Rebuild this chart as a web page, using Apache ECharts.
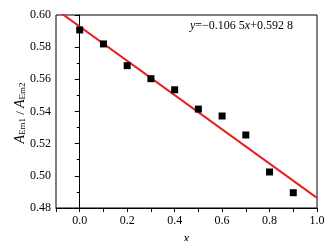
<!DOCTYPE html>
<html>
<head>
<meta charset="utf-8">
<script src="https://cdn.jsdelivr.net/npm/echarts@6/dist/echarts.min.js"></script>
<style>
  html, body { margin: 0; padding: 0; background: #fff; }
  #chart { width: 331px; height: 241px; }
</style>
</head>
<body>
<div id="chart"></div>
<script>
var xValues = [0.0, 0.1, 0.2, 0.3, 0.4, 0.5, 0.6, 0.7, 0.8, 0.9];
var ratioValues = [0.5907, 0.5820, 0.5685, 0.5604, 0.5535, 0.5415, 0.5372, 0.5254, 0.5024, 0.4895];
var fitSlope = -0.1065;
var fitIntercept = 0.5928;
var fitRange = [-0.1, 1.0];

var serif = '"Liberation Serif", "Times New Roman", serif';

var points = xValues.map(function (x, i) { return [x, ratioValues[i]]; });
var fitLine = fitRange.map(function (x) { return [x, fitSlope * x + fitIntercept]; });

var dom = document.getElementById('chart');
var chart = echarts.init(dom, null, { renderer: 'canvas' });

var option = {
  backgroundColor: '#fff',
  animation: false,
  grid: {
    left: 56, right: 14, top: 15, bottom: 33,
    containLabel: false,
    outerBoundsMode: 'none',
    show: true, borderColor: '#000', borderWidth: 1
  },
  xAxis: {
    type: 'value',
    min: -0.1, max: 1.0, interval: 0.1,
    name: 'x',
    nameLocation: 'middle',
    nameGap: 18,
    nameTextStyle: { fontFamily: serif, fontSize: 13, fontStyle: 'italic', color: '#000' },
    axisLine: { lineStyle: { color: '#000', width: 1 } },
    axisTick: { inside: false, length: 4, lineStyle: { color: '#000' } },
    axisLabel: {
      fontFamily: serif, fontSize: 12, color: '#000', margin: 7,
      formatter: function (v) {
        var k = Math.round(v * 10);
        return (k >= 0 && k % 2 === 0) ? (k / 10).toFixed(1) : '';
      }
    },
    splitLine: { show: false }
  },
  yAxis: {
    type: 'value',
    min: 0.48, max: 0.60, interval: 0.02,
    axisLine: { show: true, lineStyle: { color: '#000', width: 1 } },
    axisTick: { show: true, inside: false, length: 5, lineStyle: { color: '#000' } },
    minorTick: { show: true, splitNumber: 2, length: 3, lineStyle: { color: '#000' } },
    axisLabel: {
      fontFamily: serif, fontSize: 12, color: '#000', margin: 5,
      formatter: function (v) { return v.toFixed(2); }
    },
    splitLine: { show: false }
  },
  series: [
    {
      type: 'line',
      data: fitLine,
      showSymbol: false,
      symbol: 'none',
      clip: true,
      lineStyle: { color: '#e8201c', width: 2 },
      z: 2
    },
    {
      type: 'scatter',
      data: points,
      symbol: 'rect',
      symbolSize: 7,
      itemStyle: { color: '#000', opacity: 1 },
      z: 3
    }
  ],
  graphic: [
    {
      type: 'text',
      left: 190,
      top: 20,
      style: {
        text: '{i|y}=\u22120.106 5{i|x}+0.592 8',
        fontFamily: serif,
        fontSize: 12,
        fill: '#000',
        rich: {
          i: { fontFamily: serif, fontSize: 12, fontStyle: 'italic', fill: '#000' }
        }
      }
    },
    {
      type: 'text',
      x: 19,
      y: 113,
      rotation: Math.PI / 2,
      style: {
        text: '{i|A}{s|Em1}{n| / }{i|A}{s|Em2}',
        align: 'center',
        verticalAlign: 'middle',
        fill: '#000',
        rich: {
          i: { fontFamily: serif, fontSize: 14, fontStyle: 'italic', fill: '#000', lineHeight: 16, verticalAlign: 'bottom' },
          s: { fontFamily: serif, fontSize: 9, fill: '#000', lineHeight: 12, verticalAlign: 'bottom' },
          n: { fontFamily: serif, fontSize: 13, fill: '#000', lineHeight: 16, verticalAlign: 'bottom' }
        }
      }
    }
  ]
};

option && chart.setOption(option);
</script>
</body>
</html>
